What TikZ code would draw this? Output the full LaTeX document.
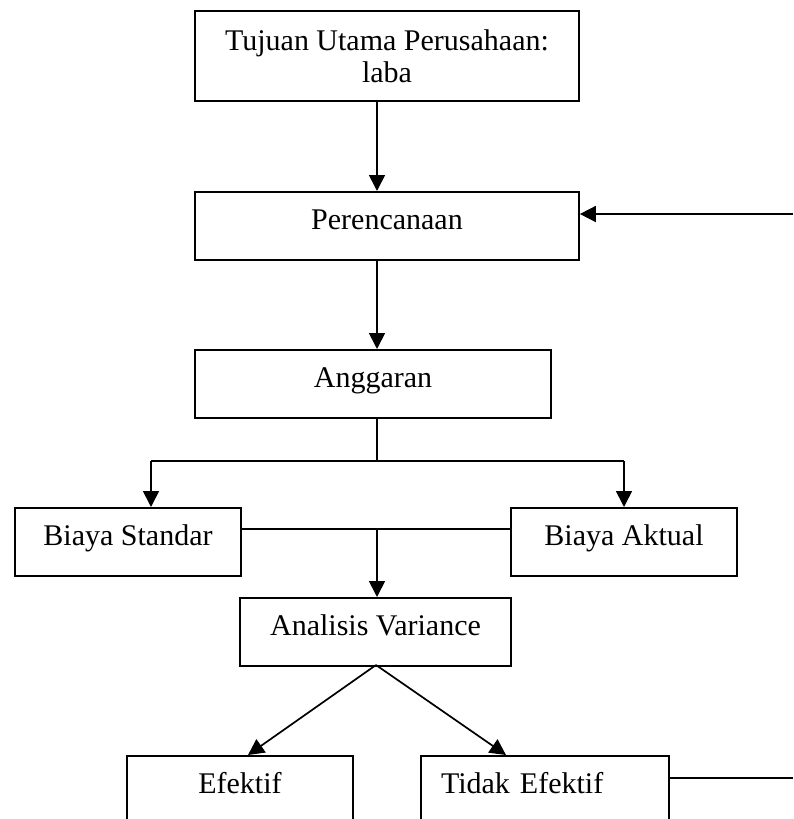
\documentclass[tikz,border=0pt]{standalone}
\usepackage{fontspec}
\setmainfont{Liberation Serif}
\usetikzlibrary{arrows.meta}
\begin{document}
\begin{tikzpicture}[x=1pt,y=-1pt,
  box/.style={draw, line width=1.7pt, inner sep=0pt, text height=38pt, text depth=30pt,
    font=\fontsize{30}{32}\selectfont, anchor=north},
  conn/.style={line width=1.7pt},
  arr/.style={conn, -{Triangle[length=16pt,width=16pt]}}]
\useasboundingbox (0,0) rectangle (793,819);
\clip (0,0) rectangle (793,819);
% nodes
\node[draw, line width=1.7pt, inner sep=0pt, minimum width=384pt, minimum height=90pt,
  align=center, font=\fontsize{30}{32}\selectfont] (tujuan) at (387,56)
  {Tujuan Utama Perusahaan:\\laba};
\node[box, minimum width=384pt] (peren) at (387,191) {Perencanaan};
\node[box, minimum width=356pt] (angg) at (373,349) {Anggaran};
\node[box, minimum width=226pt] (bstd) at (128,507) {Biaya Standar};
\node[box, minimum width=226pt] (bakt) at (624,507) {Biaya Aktual};
\node[box, minimum width=271pt] (anal) at (375.5,597) {Analisis Variance};
\node[box, minimum width=226pt] (efek) at (240,755) {Efektif};
\node[box, text width=208pt, inner xsep=20pt, align=left] (tidak) at (545,755) {Tidak Efektif};
% helper coordinates
\coordinate (col) at (377,0);
\coordinate (rin) at (793,214);
\coordinate (split) at (377,461);
\coordinate (sl) at (151,461);
\coordinate (sr) at (624,461);
\coordinate (mid) at (377,529);
\coordinate (apex) at (376,665);
\coordinate (tl) at (248,755);
\coordinate (tr) at (506,755);
\coordinate (rout) at (793,778);
% connectors
\draw[arr] (tujuan.south -| col) -- (peren.north -| col);
\draw[arr] (rin) -- (rin -| peren.east);
\draw[arr] (peren.south -| col) -- (angg.north -| col);
\draw[conn] (angg.south -| col) -- (split);
\draw[conn] (sl) -- (sr);
\draw[arr] (sl) -- (sl |- bstd.north);
\draw[arr] (sr) -- (sr |- bakt.north);
\draw[conn] (mid -| bstd.east) -- (mid -| bakt.west);
\draw[arr] (mid) -- (mid |- anal.north);
\draw[arr] (apex) -- (tl);
\draw[arr] (apex) -- (tr);
\draw[conn] (rout -| tidak.east) -- (rout);
\end{tikzpicture}
\end{document}
